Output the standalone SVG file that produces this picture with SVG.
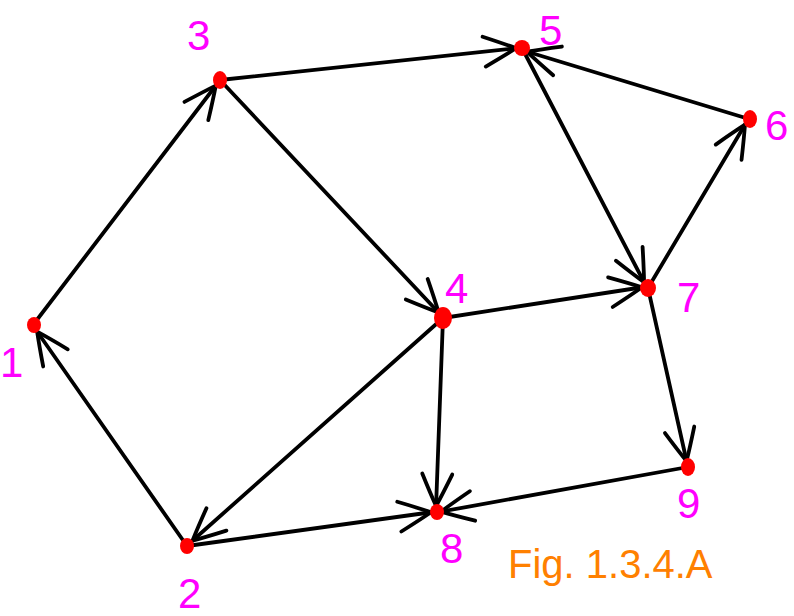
<svg xmlns="http://www.w3.org/2000/svg" width="794" height="616" viewBox="0 0 794 616">
<style>
.e{stroke:#000;stroke-width:3.8;stroke-linecap:round;fill:none;marker-end:url(#arr)}
.n{fill:#f00}
.l{fill:#f0f;font-family:"Liberation Sans",sans-serif;font-size:42px}
.cap{fill:#ff8000;font-family:"Liberation Sans",sans-serif;font-size:40px}
</style>
<defs>
<marker id="arr" markerUnits="userSpaceOnUse" orient="auto" refX="0" refY="0" markerWidth="1" markerHeight="1" overflow="visible">
<path d="M -34 -15 Q -14 -6 -2 0 Q -14 6 -34 15" fill="none" stroke="#000" stroke-width="3.8" stroke-linecap="round" stroke-linejoin="round"/>
</marker>
</defs>
<rect width="794" height="616" fill="#fff"/>
<g id="connectors">
<line class="e" x1="33" y1="325" x2="217" y2="84"/>
<line class="e" x1="187" y1="546" x2="36" y2="330"/>
<line class="e" x1="220" y1="80" x2="518" y2="48"/>
<line class="e" x1="220" y1="80" x2="440" y2="314"/>
<line class="e" x1="749" y1="119" x2="525" y2="51"/>
<line class="e" x1="522" y1="48" x2="645" y2="284"/>
<line class="e" x1="648" y1="288" x2="746" y2="123"/>
<line class="e" x1="443" y1="318" x2="644" y2="287"/>
<line class="e" x1="443" y1="318" x2="191" y2="542"/>
<line class="e" x1="443" y1="318" x2="436" y2="508"/>
<line class="e" x1="187" y1="546" x2="433" y2="512"/>
<line class="e" x1="688" y1="467" x2="439" y2="512"/>
<line class="e" x1="648" y1="288" x2="687" y2="463"/>
</g>
<g id="n1"><ellipse class="n" cx="34" cy="325" rx="7" ry="8"/><text class="l" x="0" y="377">1</text></g>
<g id="n2"><ellipse class="n" cx="187" cy="546" rx="7" ry="8"/><text class="l" x="178" y="608">2</text></g>
<g id="n3"><ellipse class="n" cx="220" cy="80" rx="7" ry="9"/><text class="l" x="187" y="50">3</text></g>
<g id="n4"><ellipse class="n" cx="443" cy="318" rx="9" ry="11"/><text class="l" x="445" y="303">4</text></g>
<g id="n5"><ellipse class="n" cx="522" cy="48" rx="8" ry="8"/><text class="l" x="539" y="45">5</text></g>
<g id="n6"><ellipse class="n" cx="750" cy="119" rx="7" ry="9"/><text class="l" x="765" y="140">6</text></g>
<g id="n7"><ellipse class="n" cx="648" cy="288" rx="8" ry="9"/><text class="l" x="677" y="312">7</text></g>
<g id="n8"><ellipse class="n" cx="437" cy="512" rx="7" ry="8"/><text class="l" x="440" y="563">8</text></g>
<g id="n9"><ellipse class="n" cx="688" cy="467" rx="7" ry="9"/><text class="l" x="677" y="518">9</text></g>
<text class="cap" x="508" y="578">Fig. 1.3.4.A</text>
</svg>
